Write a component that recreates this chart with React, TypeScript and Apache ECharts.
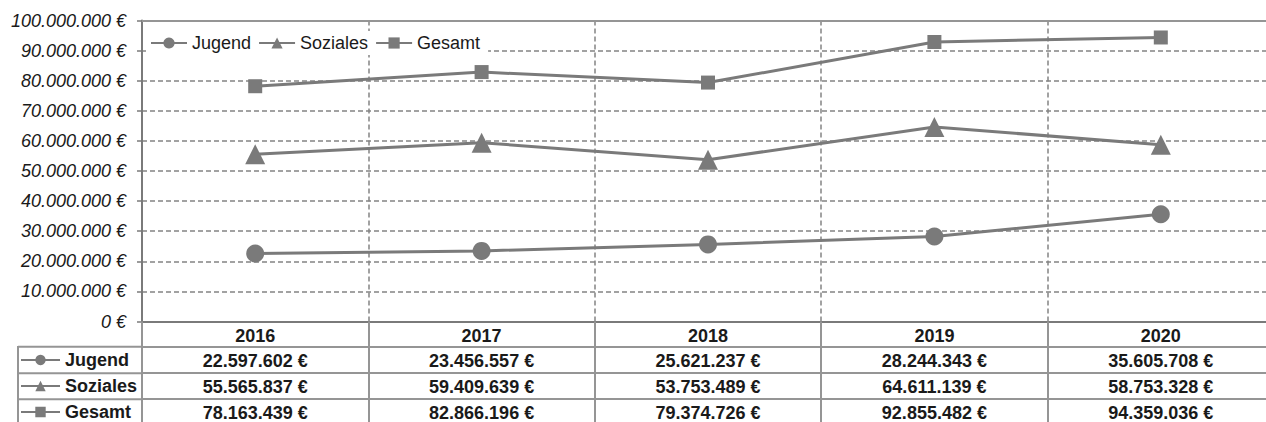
import React, { useEffect, useRef } from "react";
import * as echarts from "echarts";

const years = ["2016", "2017", "2018", "2019", "2020"];
const seriesNames = ["Jugend", "Soziales", "Gesamt"];
const jugend = [22597602, 23456557, 25621237, 28244343, 35605708];
const soziales = [55565837, 59409639, 53753489, 64611139, 58753328];
const gesamt = [78163439, 82866196, 79374726, 92855482, 94359036];
const yMin = 0;
const yMax = 100000000;
const yInterval = 10000000;

const seriesValues = [jugend, soziales, gesamt];
const symbols = ["circle", "triangle", "rect"];
const symbolSizes = [18, 20, 14];

const FONT = '"Liberation Sans", Arial, sans-serif';
const GRAY = "#7a7a7a";
const GRID = "#848484";
const TABLE = "#959595";
const TEXT = "#1a1a1a";

function fmt(v: number): string {
  return String(Math.round(v)).replace(/\B(?=(\d{3})+(?!\d))/g, ".") + " €";
}

export default function App() {
  const ref = useRef<HTMLDivElement>(null);
  useEffect(() => {
    if (!ref.current) return;
    const chart = echarts.init(ref.current, undefined, { renderer: "svg" });
    const rowOffsets = [25, 51.5, 77.5, 103.5];
    const rowAxes = rowOffsets.map((off, i) => ({
      type: "category",
      data: years,
      gridIndex: 0,
      position: "bottom",
      offset: off,
      boundaryGap: true,
      axisLine: { show: true, lineStyle: { color: TABLE, width: 2 } },
      axisTick: {
        show: true,
        inside: true,
        alignWithLabel: false,
        interval: 0,
        length: i === 0 ? 25 : 26,
        lineStyle: { color: TABLE, width: 2 },
      },
      axisLabel: {
        show: i < 3,
        interval: 0,
        margin: 5,
        fontFamily: FONT,
        fontSize: 18,
        fontWeight: "bold",
        color: TEXT,
        formatter: (_v: string, idx: number) =>
          i < 3 ? fmt(seriesValues[i][idx]) : "",
      },
      splitLine: { show: false },
    }));

    chart.setOption({
      animation: false,
      backgroundColor: "#ffffff",
      textStyle: { fontFamily: FONT },
      grid: { left: 142, top: 20.5, right: 1, bottom: 100, containLabel: false },
      xAxis: [
        {
          type: "category",
          data: years,
          gridIndex: 0,
          position: "bottom",
          boundaryGap: true,
          axisLine: { show: true, lineStyle: { color: GRAY, width: 2 } },
          axisTick: { show: false },
          axisLabel: {
            interval: 0,
            margin: 5,
            fontFamily: FONT,
            fontSize: 18,
            fontWeight: "bold",
            color: TEXT,
          },
          splitLine: {
            show: true,
            interval: 0,
            lineStyle: { color: GRID, width: 1.5, type: [5, 3] },
          },
        },
        ...rowAxes,
        {
          type: "category",
          data: years,
          gridIndex: 0,
          position: "top",
          boundaryGap: true,
          axisLine: { show: true, lineStyle: { color: TABLE, width: 2 } },
          axisTick: { show: false },
          axisLabel: { show: false },
          splitLine: { show: false },
        },
      ],
      yAxis: {
        type: "value",
        min: yMin,
        max: yMax,
        interval: yInterval,
        axisLine: { show: true, lineStyle: { color: GRAY, width: 2 } },
        axisTick: { show: true, length: 5, lineStyle: { color: GRAY, width: 1.5 } },
        axisLabel: {
          margin: 16,
          fontFamily: FONT,
          fontSize: 18,
          fontStyle: "italic",
          color: TEXT,
          formatter: (v: number) => fmt(v),
        },
        splitLine: {
          show: true,
          lineStyle: { color: GRID, width: 1.5, type: [5, 3] },
        },
      },
      legend: [
        {
          data: seriesNames,
          orient: "horizontal",
          left: 146,
          top: 31,
          itemWidth: 36,
          itemHeight: 14,
          itemGap: 7,
          padding: [3, 8, 3, 4],
          backgroundColor: "#ffffff",
          selectedMode: false,
          textStyle: { fontFamily: FONT, fontSize: 18, color: TEXT },
        },
        {
          data: seriesNames,
          orient: "vertical",
          left: 20,
          top: 351,
          itemWidth: 39,
          itemHeight: 13,
          itemGap: 8,
          padding: 0,
          selectedMode: false,
          textStyle: { fontFamily: FONT, fontSize: 18, fontWeight: "bold", color: TEXT },
        },
      ],
      graphic: [
        { type: "line", shape: { x1: 18, y1: 346.7, x2: 142, y2: 346.7 }, style: { stroke: TABLE, lineWidth: 2 } },
        { type: "line", shape: { x1: 18, y1: 373.2, x2: 142, y2: 373.2 }, style: { stroke: TABLE, lineWidth: 2 } },
        { type: "line", shape: { x1: 18, y1: 399.2, x2: 142, y2: 399.2 }, style: { stroke: TABLE, lineWidth: 2 } },
        { type: "line", shape: { x1: 18, y1: 346, x2: 18, y2: 430 }, style: { stroke: TABLE, lineWidth: 2 } },
      ],
      series: seriesNames.map((name, i) => ({
        type: "line",
        name,
        data: seriesValues[i],
        xAxisIndex: 0,
        yAxisIndex: 0,
        symbol: symbols[i],
        symbolSize: symbolSizes[i],
        showSymbol: true,
        lineStyle: { color: GRAY, width: 3 },
        itemStyle: { color: GRAY },
        z: 3,
      })),
    });
    return () => chart.dispose();
  }, []);
  return (
    <div
      style={{
        position: "absolute",
        left: 0,
        top: 0,
        width: 1266,
        height: 422,
        overflow: "hidden",
      }}
    >
      <div ref={ref} style={{ width: 1275, height: 422 }} />
    </div>
  );
}
